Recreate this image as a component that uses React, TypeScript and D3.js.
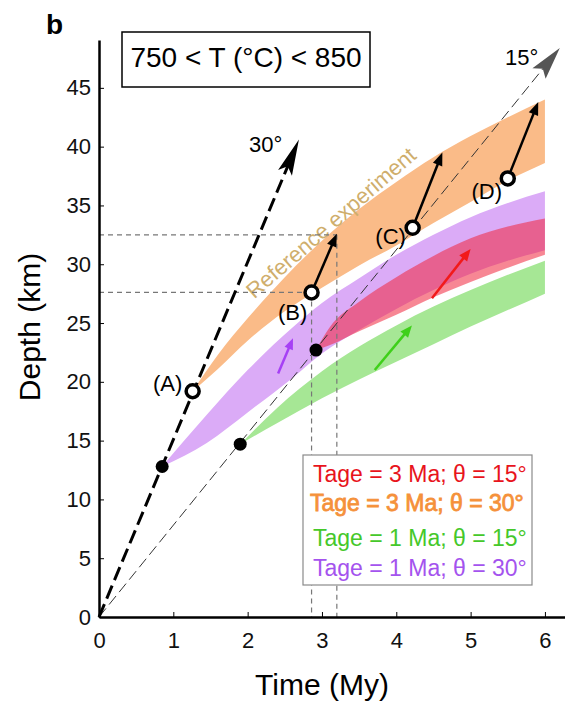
import { useEffect, useRef } from "react";
import * as d3 from "d3";

const timeTicks = [0, 1, 2, 3, 4, 5, 6];
const depthTicks = [0, 5, 10, 15, 20, 25, 30, 35, 40, 45];

// envelopes of each run: time (My) with top / bottom depth (km)
const orangeTime = [1.26, 1.6, 2.0, 2.5, 3.0, 3.5, 4.0, 4.5, 5.0, 5.5, 6.0];
const orangeTop = [19.2, 22.3, 25.4, 28.9, 32.0, 34.7, 37.0, 39.1, 40.9, 42.5, 44.0];
const orangeBottom = [19.2, 21.1, 23.5, 26.0, 28.0, 29.9, 31.6, 33.5, 35.3, 37.1, 38.6];

const purpleTime = [0.85, 1.45, 2.0, 2.6, 3.0, 3.5, 4.0, 4.5, 5.0, 5.5, 6.0];
const purpleTop = [12.8, 17.2, 21.0, 24.6, 26.7, 28.8, 30.8, 32.5, 34.0, 35.2, 36.2];
const purpleBottom = [12.8, 14.8, 17.4, 20.3, 22.4, 24.4, 26.2, 27.8, 29.2, 30.3, 31.2];

const redTime = [2.92, 3.1, 3.5, 4.0, 4.5, 5.0, 5.5, 6.0];
const redTop = [22.7, 24.6, 26.8, 28.9, 30.7, 32.2, 33.2, 33.9];
const redBottom = [22.7, 23.1, 24.3, 25.7, 27.2, 28.5, 29.7, 30.8];

const greenTime = [1.9, 2.4, 3.0, 3.5, 4.0, 4.5, 5.0, 5.5, 6.0];
const greenTop = [14.7, 17.8, 20.9, 23.0, 24.8, 26.4, 27.8, 29.1, 30.3];
const greenBottom = [14.7, 16.5, 18.6, 20.2, 21.7, 23.2, 24.7, 26.1, 27.5];

// burial paths (arrow tips)
const path30Tip = [2.69, 40.6];
const path15Tip = [6.2, 48.4];

// starting points of the runs
const dotTime = [0.85, 1.9, 2.92];
const dotDepth = [12.8, 14.7, 22.7];

// reference experiment stops
const stopLabels = ["(A)", "(B)", "(C)", "(D)"];
const stopTime = [1.26, 2.86, 4.22, 5.5];
const stopDepth = [19.2, 27.6, 33.1, 37.3];

// exhumation arrows from B, C, D
const exhumeTipTime = [3.2, 4.62, 5.91];
const exhumeTipDepth = [32.6, 39.5, 43.8];

// coloured arrows: [t0, d0, t1, d1]
const purpleArrow = [2.41, 20.7, 2.61, 23.7];
const redArrow = [4.48, 27.1, 5.0, 31.3];
const greenArrow = [3.71, 21.0, 4.21, 24.8];

const legendLabels = [
  "Tage = 3 Ma; θ = 15°",
  "Tage = 3 Ma; θ = 30°",
  "Tage = 1 Ma; θ = 15°",
  "Tage = 1 Ma; θ = 30°"
];
const legendColors = ["#e8141c", "#f5913a", "#45c82a", "#a453ee"];

const FONT = "'Liberation Sans', Arial, Helvetica, sans-serif";

export default function App() {
  const ref = useRef<SVGSVGElement>(null);

  useEffect(() => {
    const svg = d3.select(ref.current);
    svg.selectAll("*").remove();

    const width = 565;
    const height = 706;
    svg.attr("width", width).attr("height", height).style("font-family", FONT);

    const x = d3.scaleLinear().domain([0, 6.27]).range([99, 565]);
    const y = d3.scaleLinear().domain([0, 49.07]).range([617, 40]);

    const area = d3
      .area<{ t: number; top: number; bottom: number }>()
      .x(d => x(d.t))
      .y0(d => y(d.bottom))
      .y1(d => y(d.top))
      .curve(d3.curveMonotoneX);

    const band = (times: number[], top: number[], bottom: number[]) =>
      times.map((t, i) => ({ t, top: top[i], bottom: bottom[i] }));

    svg.append("path").attr("d", area(band(orangeTime, orangeTop, orangeBottom))).attr("fill", "#fabb88");
    svg.append("path").attr("d", area(band(purpleTime, purpleTop, purpleBottom))).attr("fill", "#dbabf7");
    svg.append("path").attr("d", area(band(redTime, redTop, redBottom))).attr("fill", "#f0243c").attr("opacity", 0.55);
    svg.append("path").attr("d", area(band(greenTime, greenTop, greenBottom))).attr("fill", "#a6e795");

    // reference experiment label
    svg.append("text")
      .attr("transform", `translate(${x(2.09)},${y(27.0)}) rotate(-41)`)
      .attr("font-size", 22)
      .attr("fill", "#cfae6c")
      .text("Reference experiment");

    // guide lines to B and to the tip of its arrow
    const guides = [
      [stopTime[1], stopDepth[1]],
      [exhumeTipTime[0], 32.5]
    ];
    guides.forEach(([t, d]) => {
      svg.append("line")
        .attr("x1", x(0)).attr("x2", x(t))
        .attr("y1", y(d)).attr("y2", y(d))
        .attr("stroke", "#777").attr("stroke-width", 1.2).attr("stroke-dasharray", "5,4");
      svg.append("line")
        .attr("x1", x(t)).attr("x2", x(t))
        .attr("y1", y(d)).attr("y2", y(0))
        .attr("stroke", "#777").attr("stroke-width", 1.2).attr("stroke-dasharray", "5,4");
    });

    const arrowHead = (
      x1: number, y1: number, x2: number, y2: number,
      len: number, half: number, notch: number, color: string
    ) => {
      const a = Math.atan2(y2 - y1, x2 - x1);
      const ux = Math.cos(a), uy = Math.sin(a);
      const bx = x2 - ux * len, by = y2 - uy * len;
      const pts = [
        [x2, y2],
        [bx - uy * half, by + ux * half],
        [x2 - ux * (len - notch), y2 - uy * (len - notch)],
        [bx + uy * half, by - ux * half]
      ];
      svg.append("polygon").attr("points", pts.map(p => p.join(",")).join(" ")).attr("fill", color);
      return [x2 - ux * (len - notch - 1), y2 - uy * (len - notch - 1)];
    };

    const arrow = (
      t0: number, d0: number, t1: number, d1: number,
      color: string, sw: number, len: number, half: number, dash?: string, headColor?: string, notch = 0
    ) => {
      const x1 = x(t0), y1 = y(d0), x2 = x(t1), y2 = y(d1);
      const line = svg.append("line")
        .attr("x1", x1).attr("y1", y1)
        .attr("stroke", color).attr("stroke-width", sw);
      if (dash) line.attr("stroke-dasharray", dash);
      const [ex, ey] = arrowHead(x1, y1, x2, y2, len, half, notch, headColor || color);
      line.attr("x2", ex).attr("y2", ey);
    };

    // 15 and 30 degree burial paths
    arrow(0, 0, path15Tip[0], path15Tip[1], "#333", 1, 33, 8.5, "11,5", "#555", 6);
    arrow(0, 0, path30Tip[0], path30Tip[1], "#000", 3, 36, 7.5, "14,6", "#000", 7);

    svg.append("text").attr("x", 249).attr("y", 152).attr("font-size", 22).text("30°");
    svg.append("text").attr("x", 505).attr("y", 65).attr("font-size", 22).text("15°");

    // coloured arrows
    arrow(purpleArrow[0], purpleArrow[1], purpleArrow[2], purpleArrow[3], "#a640f5", 2.5, 11, 4.5);
    arrow(redArrow[0], redArrow[1], redArrow[2], redArrow[3], "#f21a1a", 2.5, 12, 5);
    arrow(greenArrow[0], greenArrow[1], greenArrow[2], greenArrow[3], "#3fd01a", 2.5, 12, 5);

    // black exhumation arrows
    exhumeTipTime.forEach((t, i) => {
      arrow(stopTime[i + 1], stopDepth[i + 1], t, exhumeTipDepth[i], "#000", 2.5, 13, 5);
    });

    // solid dots
    dotTime.forEach((t, i) => {
      svg.append("circle").attr("cx", x(t)).attr("cy", y(dotDepth[i])).attr("r", 6.5).attr("fill", "#000");
    });

    // open circles with labels
    const labelOffset = [[-25, -8], [-19, 20], [-22, 9], [-21, 13]];
    stopTime.forEach((t, i) => {
      svg.append("circle")
        .attr("cx", x(t)).attr("cy", y(stopDepth[i]))
        .attr("r", 6.5).attr("fill", "#fff").attr("stroke", "#000").attr("stroke-width", 3.5);
      svg.append("text")
        .attr("x", x(t) + labelOffset[i][0])
        .attr("y", y(stopDepth[i]) + labelOffset[i][1])
        .attr("text-anchor", "middle")
        .attr("dy", "0.35em")
        .attr("font-size", 22)
        .text(stopLabels[i]);
    });

    // legend
    svg.append("rect")
      .attr("x", 303).attr("y", 455).attr("width", 229).attr("height", 130)
      .attr("fill", "#fff").attr("stroke", "#8a8a8a").attr("stroke-width", 1.2);
    const legendY = [482, 511, 546, 576];
    legendLabels.forEach((label, i) => {
      const txt = svg.append("text")
        .attr("x", i === 1 ? 310 : 313)
        .attr("y", legendY[i])
        .attr("font-size", 23)
        .attr("fill", legendColors[i])
        .text(label);
      // the 30° reference line is drawn heavier
      if (i === 1) txt.attr("stroke", legendColors[i]).attr("stroke-width", 0.8);
    });

    // axes
    const yAxis = svg.append("g")
      .attr("transform", `translate(${x(0)},0)`)
      .call(d3.axisLeft(y).tickValues(depthTicks).tickSize(-5).tickSizeOuter(0).tickPadding(8));
    const xAxis = svg.append("g")
      .attr("transform", `translate(0,${y(0)})`)
      .call(d3.axisBottom(x).tickValues(timeTicks).tickFormat(d3.format("d")).tickSize(-5).tickSizeOuter(0).tickPadding(15));
    [xAxis, yAxis].forEach(g => {
      g.select(".domain").attr("stroke-width", 2.5);
      g.selectAll("text").attr("font-size", 22).attr("font-family", FONT).attr("fill", "#111");
      g.selectAll(".tick line").attr("stroke-width", 1);
    });

    svg.append("text")
      .attr("transform", "translate(40,327) rotate(-90)")
      .attr("text-anchor", "middle")
      .attr("font-size", 30)
      .text("Depth (km)");
    svg.append("text")
      .attr("x", 322).attr("y", 695)
      .attr("text-anchor", "middle")
      .attr("font-size", 30)
      .text("Time (My)");

    // panel letter and temperature box
    svg.append("text").attr("x", 46).attr("y", 34).attr("font-size", 28).attr("font-weight", "bold").text("b");
    svg.append("rect")
      .attr("x", 122).attr("y", 32).attr("width", 248).attr("height", 55)
      .attr("fill", "#fff").attr("stroke", "#000").attr("stroke-width", 1.5);
    svg.append("text")
      .attr("x", 246).attr("y", 67)
      .attr("text-anchor", "middle")
      .attr("font-size", 28)
      .text("750 < T (°C) < 850");
  }, []);

  return <svg ref={ref} style={{ position: "absolute", left: 0, top: 0 }}></svg>;
}
